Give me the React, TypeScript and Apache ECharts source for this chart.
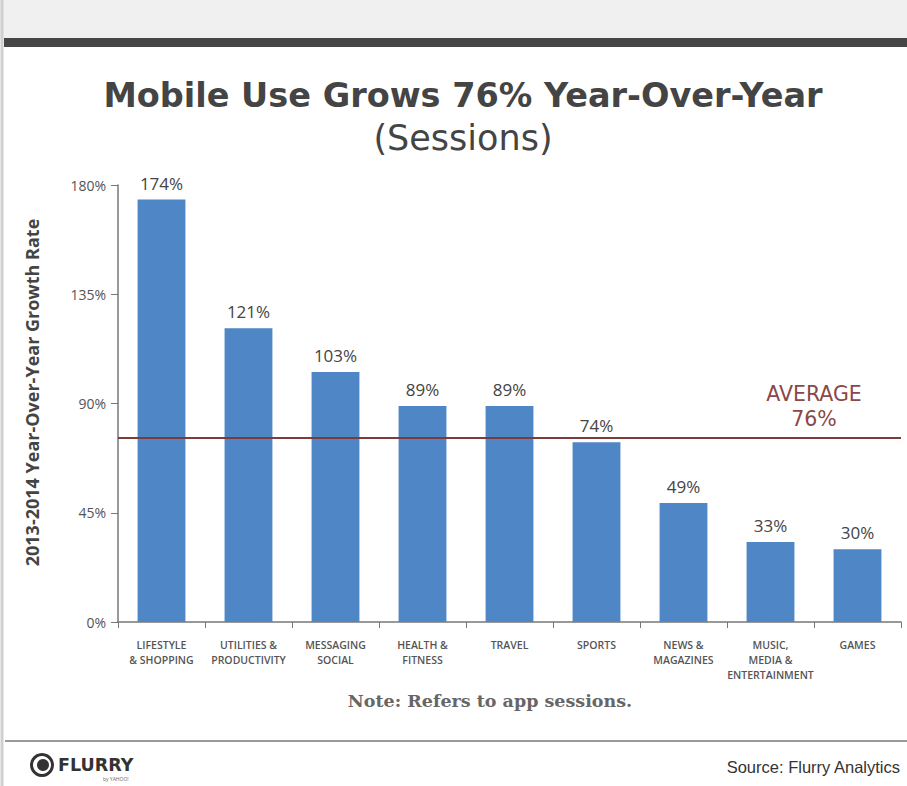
import React, { useEffect, useRef } from "react";
import * as echarts from "echarts";

const categories = [
  "LIFESTYLE\n& SHOPPING",
  "UTILITIES &\nPRODUCTIVITY",
  "MESSAGING\nSOCIAL",
  "HEALTH &\nFITNESS",
  "TRAVEL",
  "SPORTS",
  "NEWS &\nMAGAZINES",
  "MUSIC,\nMEDIA &\nENTERTAINMENT",
  "GAMES",
];
const growth = [174, 121, 103, 89, 89, 74, 49, 33, 30];
const average = 76;
const yTicks = { min: 0, max: 180, interval: 45 };

const TITLE = "Mobile Use Grows 76% Year-Over-Year";
const SUBTITLE = "(Sessions)";
const Y_NAME = "2013-2014 Year-Over-Year Growth Rate";
const NOTE = "Note: Refers to app sessions.";
const SOURCE = "Source: Flurry Analytics";
const AVG_LABEL = "AVERAGE";

const SANS = "'Open Sans', Lato, sans-serif";
const WIDE = "'DejaVu Sans', 'Open Sans', sans-serif";

export default function App() {
  const ref = useRef<HTMLDivElement>(null);
  useEffect(() => {
    if (!ref.current) return;
    const chart = echarts.init(ref.current, undefined, { renderer: "svg" });
    const W = 907;
    const option: any = {
      animation: false,
      backgroundColor: "#ffffff",
      grid: { left: 118, right: 6, top: 185, bottom: 164, containLabel: false },
      xAxis: {
        type: "category",
        data: categories,
        axisLine: { lineStyle: { color: "#777", width: 1.5 } },
        axisTick: { show: true, length: 6, interval: 0, lineStyle: { color: "#777" } },
        axisLabel: {
          interval: 0,
          margin: 15,
          fontFamily: SANS,
          fontSize: 10.5,
          fontWeight: 600,
          color: "#555",
          lineHeight: 15,
        },
      },
      yAxis: {
        type: "value",
        min: yTicks.min,
        max: yTicks.max,
        interval: yTicks.interval,
        name: Y_NAME,
        nameLocation: "middle",
        nameGap: 77,
        nameTextStyle: { fontFamily: SANS, fontSize: 18, fontWeight: "bold", color: "#444", padding: [0, 0, 0, 22] },
        axisLine: { show: true, lineStyle: { color: "#777", width: 1.5 } },
        axisTick: { show: true, length: 7, lineStyle: { color: "#777" } },
        splitLine: { show: false },
        axisLabel: {
          formatter: "{value}%",
          fontFamily: SANS,
          fontSize: 14,
          color: "#555",
          margin: 12,
        },
      },
      series: [
        {
          type: "bar",
          data: growth,
          barWidth: "55%",
          itemStyle: { color: "#4f86c6" },
          label: {
            show: true,
            position: "top",
            distance: 8,
            formatter: "{c}%",
            fontFamily: SANS,
            fontSize: 17,
            color: "#444",
          },
          markLine: {
            symbol: "none",
            silent: true,
            label: { show: false },
            lineStyle: { color: "#7d3b3b", width: 2, type: "solid" },
            data: [{ yAxis: average }],
          },
        },
      ],
    };
    chart.setOption(option);
    const avgY = chart.convertToPixel({ yAxisIndex: 0 }, average) as number;
    const avgStyle = {
      fontFamily: WIDE,
      fontSize: 20.5,
      fill: "#8a4848",
      align: "center",
      verticalAlign: "middle",
    };
    chart.setOption({
      graphic: [
        { type: "rect", silent: true, z: -10, shape: { x: 0, y: 0, width: W, height: 38 }, style: { fill: "#f0f0f0" } },
        { type: "rect", silent: true, shape: { x: 4, y: 38, width: W, height: 9 }, style: { fill: "#464646" } },
        { type: "line", silent: true, shape: { x1: 2, y1: 0, x2: 2, y2: 786 }, style: { stroke: "#cfcfcf", lineWidth: 3 } },
        { type: "line", silent: true, shape: { x1: 5, y1: 741, x2: W, y2: 741 }, style: { stroke: "#999", lineWidth: 2 } },
        {
          type: "text",
          x: 463,
          y: 95,
          style: { text: TITLE, fontFamily: WIDE, fontSize: 33.5, fontWeight: "bold", fill: "#444", align: "center", verticalAlign: "middle" },
        },
        {
          type: "text",
          x: 463,
          y: 138,
          style: { text: SUBTITLE, fontFamily: WIDE, fontSize: 35, fill: "#444", align: "center", verticalAlign: "middle" },
        },
        { type: "text", x: 814, y: avgY - 43, style: { ...avgStyle, text: AVG_LABEL } },
        { type: "text", x: 814, y: avgY - 18, style: { ...avgStyle, text: average + "%" } },
        {
          type: "text",
          x: 490,
          y: 701,
          style: { text: NOTE, fontFamily: "'DejaVu Serif', serif", fontSize: 17.5, fontWeight: "bold", fill: "#666", align: "center", verticalAlign: "middle" },
        },
        {
          type: "text",
          x: 900,
          y: 767,
          style: { text: SOURCE, fontFamily: "'Liberation Sans Narrow', 'Liberation Sans', Arial, sans-serif", fontSize: 16.5, fill: "#333", align: "right", verticalAlign: "middle" },
        },
        { type: "ring", silent: true, shape: { cx: 42, cy: 765, r: 12, r0: 9 }, style: { fill: "#333" } },
        { type: "circle", silent: true, shape: { cx: 43, cy: 765, r: 6 }, style: { fill: "#333" } },
        {
          type: "text",
          x: 58,
          y: 765,
          style: { text: "FLURRY", fontFamily: "'DejaVu Sans', sans-serif", fontSize: 17.5, fontWeight: "bold", fill: "#333", verticalAlign: "middle" },
        },
        {
          type: "text",
          x: 103,
          y: 779,
          style: { text: "by YAHOO!", fontFamily: SANS, fontSize: 5, fill: "#666", verticalAlign: "middle" },
        },
      ],
    });
    return () => chart.dispose();
  }, []);
  return (
    <div
      ref={ref}
      style={{ position: "absolute", left: 0, top: 0, width: 907, height: 786 }}
    />
  );
}
